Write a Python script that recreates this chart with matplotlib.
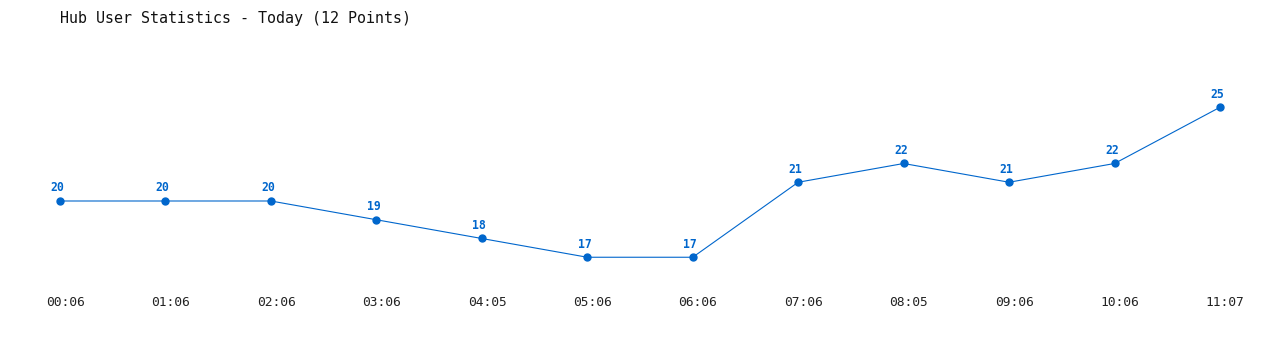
import matplotlib
matplotlib.use('Agg')
import matplotlib.pyplot as plt
import matplotlib.transforms as mtransforms

times = ['00:06', '01:06', '02:06', '03:06', '04:05', '05:06',
         '06:06', '07:06', '08:05', '09:06', '10:06', '11:07']
users = [20, 20, 20, 19, 18, 17, 17, 21, 22, 21, 22, 25]

color = '#0066cc'
mono = 'DejaVu Sans Mono'

fig = plt.figure(figsize=(12.8, 3.5), dpi=100)
ax = fig.add_axes([0, 0, 1, 1])
ax.set_xlim(-0.569, 11.569)
ax.set_ylim(12.053, 30.72)
ax.axis('off')

x = list(range(len(users)))
ax.plot(x, users, color=color, linewidth=0.8, marker='o', markersize=5)

for xi, v in zip(x, users):
    ax.annotate(str(v), (xi, v), xytext=(-2, 9.4), textcoords='offset points',
                ha='center', va='center', fontsize=8.3, fontweight='bold',
                color=color, family=mono)

# x labels in figure pixel rows
trans = mtransforms.blended_transform_factory(ax.transData, fig.transFigure)
for xi, t in zip(x, times):
    ax.text(xi + 0.05, 1 - 303 / 350, t, transform=trans, ha='center', va='center',
            fontsize=9.3, color='#222222', family=mono)

fig.text(60 / 1280, 1 - 18 / 350, 'Hub User Statistics - Today (12 Points)',
         ha='left', va='center', fontsize=10.8, color='#111111', family=mono)

fig.savefig('out.png', dpi=100, facecolor='white')
